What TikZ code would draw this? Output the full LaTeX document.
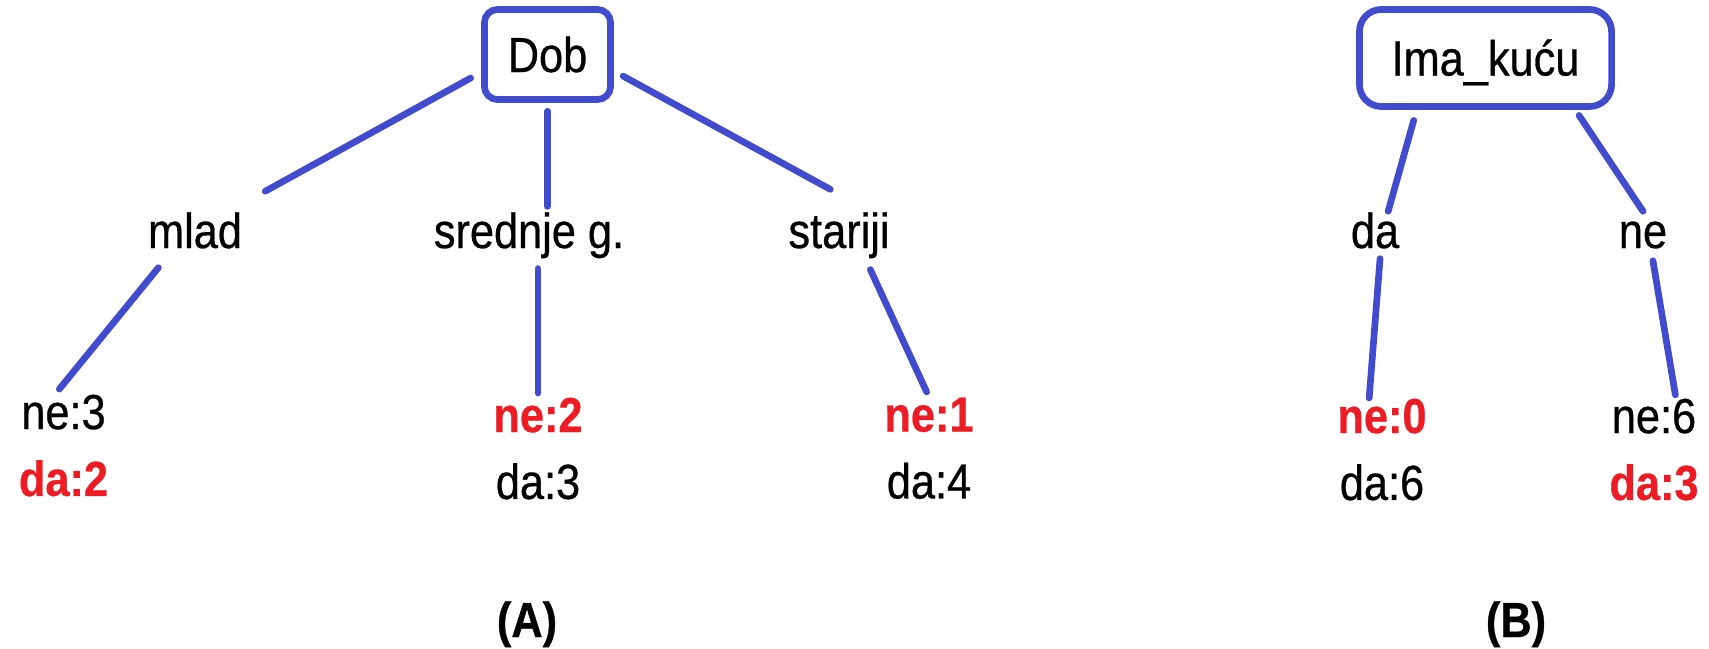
\documentclass[tikz,border=0pt]{standalone}
\usepackage{fontspec}
\setmainfont{Liberation Sans}[FakeStretch=0.88,FakeBold=0.6]
\usepackage{tikz}
\definecolor{treeblue}{RGB}{65,75,205}
\definecolor{treered}{RGB}{237,28,36}
\tikzset{
	root node/.style={draw=treeblue,line width=1.9pt,inner sep=0pt,
		text height=0.37cm,text depth=0.02cm},
	value node/.style={inner sep=0pt,anchor=base,text height=0.36cm,text depth=0.1cm},
	leaf node/.style={inner sep=0pt,anchor=north,align=center},
	caption/.style={font=\fontsize{14}{19}\selectfont\bfseries,anchor=base},
	branch/.style={draw=treeblue,line width=1.9pt,line cap=round}
}
\newcommand{\hit}[1]{\textcolor{treered}{\bfseries #1}}

\begin{document}
\begin{tikzpicture}[x=0.01cm,y=-0.01cm,font=\fontsize{14}{19}\selectfont]
	\useasboundingbox (0,0) rectangle (1709,648);
	% (A) split on Dob
	\node [root node,rounded corners=0.13cm,minimum width=1.26cm,minimum height=0.9cm] (dob) at (547.5,54.5) {Dob};
	\node [value node] (mlad) at (195,248) {mlad};
	\node [value node] (sred) at (529,248) {srednje g.};
	\node [value node] (star) at (839,248) {stariji};
	\node [leaf node] (l1) at (63.5,394) {ne:3\\\hit{da:2}};
	\node [leaf node] (l2) at (538,397) {\hit{ne:2}\\da:3};
	\node [leaf node] (l3) at (929,397) {\hit{ne:1}\\da:4};
	\draw [branch,shorten <=3.4pt,shorten >=11.8pt] (dob.195) -- (mlad.35);
	\draw [branch,shorten <=2.4pt,shorten >=1.4pt] (dob.south) -- (dob.south |- sred.north);
	\draw [branch,shorten <=3pt,shorten >=13pt] (dob.-14) -- (star.37);
	\draw [branch,shorten <=3.3pt,shorten >=1.8pt] (mlad.219) -- (l1.99);
	\draw [branch,shorten <=2.8pt,shorten >=1.1pt] (l2.north |- sred.south) -- (l2.north);
	\draw [branch,shorten <=3.4pt,shorten >=1.6pt] (star.-42) -- (l3.north);
	\node [caption] (capA) at (527,637) {(A)};
	% (B) split on Ima_kucu
	\node [root node,rounded corners=0.22cm,minimum width=2.52cm,minimum height=0.97cm] (ima) at (1485.5,58) {Ima\_kuću};
	\node [value node] (da) at (1375,248) {da};
	\node [value node] (ne) at (1643,248) {ne};
	\node [leaf node] (l4) at (1382,398) {\hit{ne:0}\\da:6};
	\node [leaf node] (l5) at (1654,398) {ne:6\\\hit{da:3}};
	\draw [branch,shorten <=3.1pt] (ima.217) -- (da.61);
	\draw [branch,shorten <=1.9pt] (ima.-30) -- (ne.north);
	\draw [branch] (da.-78) -- (l4.104);
	\draw [branch,shorten <=0.6pt,shorten >=0.9pt] (ne.-68) -- (l5.67);
	\node [caption] (capB) at (1516,637) {(B)};
\end{tikzpicture}
\end{document}
